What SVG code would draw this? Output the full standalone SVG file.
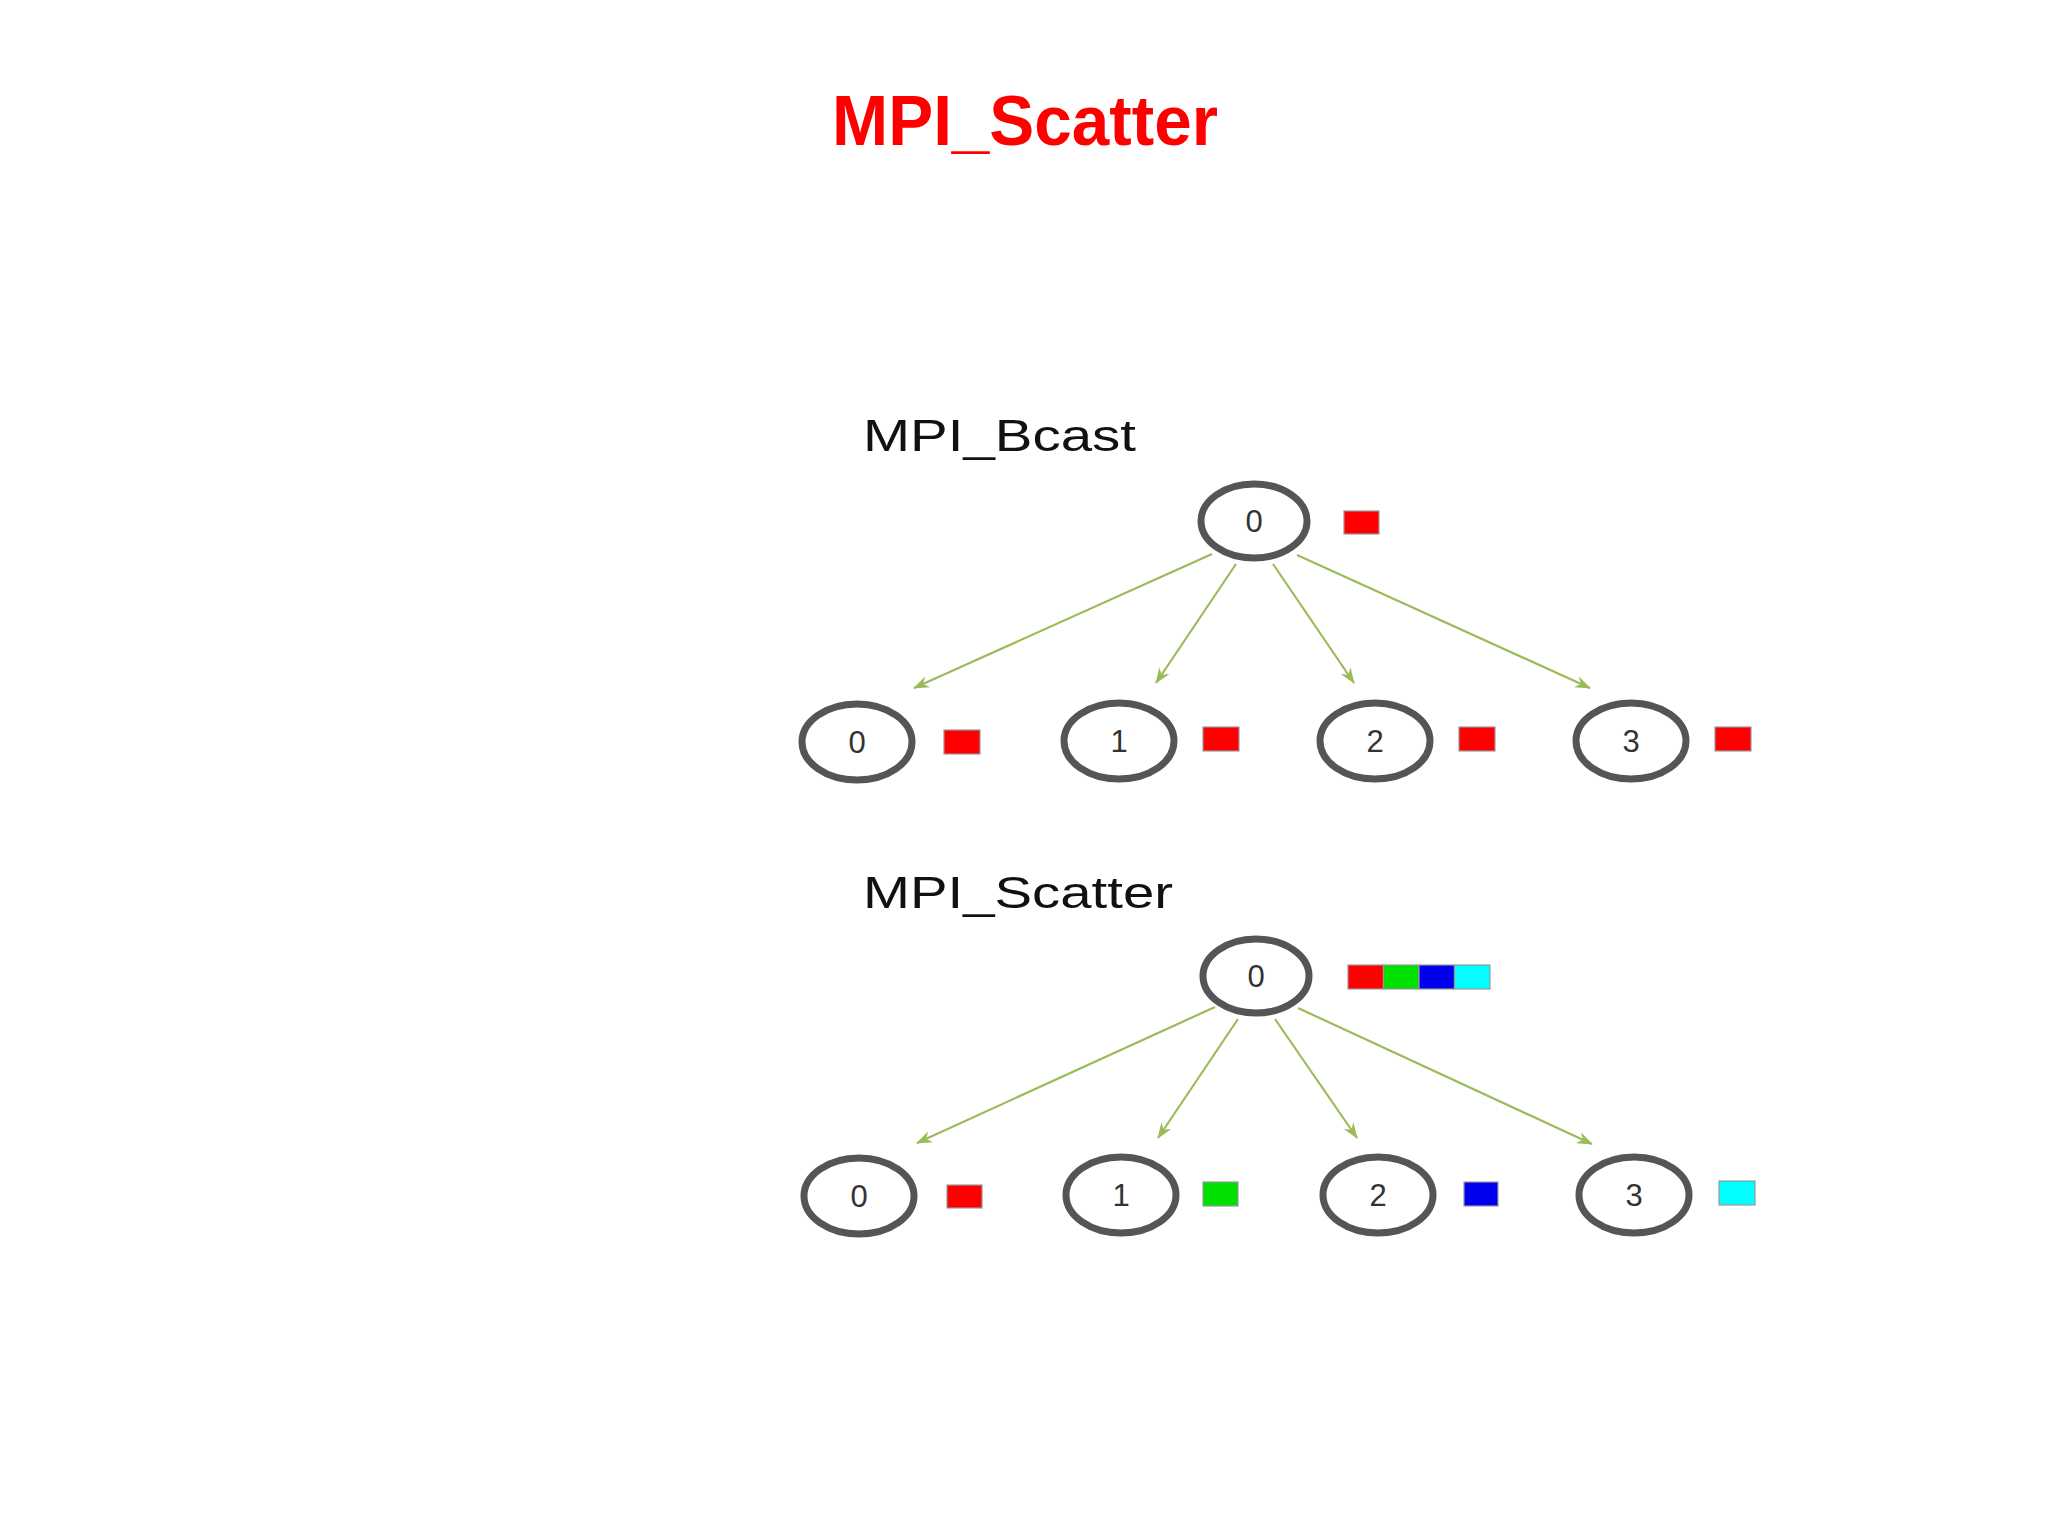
<svg xmlns="http://www.w3.org/2000/svg" width="2048" height="1536" viewBox="0 0 2048 1536">
<style>
.title{font-family:"Liberation Sans",Arial,sans-serif;font-weight:bold;font-size:70px;fill:#ff0000}
.sub{font-family:"Liberation Sans",Arial,sans-serif;font-size:44px;fill:#111}
.node ellipse{fill:#fff;stroke:#555;stroke-width:7}
.node text{font-family:"Liberation Sans Narrow","Liberation Sans",Arial,sans-serif;font-size:31px;fill:#333;text-anchor:middle}
.conn line{stroke:#9bbb59;stroke-width:2.2;marker-end:url(#ah)}
.blk{stroke:#999;stroke-width:1.2}
</style>
<defs>
<marker id="ah" viewBox="0 0 16 12" refX="15" refY="6" markerWidth="16" markerHeight="12" markerUnits="userSpaceOnUse" orient="auto">
<path d="M0,0 L16,6 L0,12 L5,6 Z" fill="#9bbb59"/>
</marker>
</defs>
<rect width="2048" height="1536" fill="#fff"/>
<text class="title" x="1025" y="145" text-anchor="middle" textLength="386" lengthAdjust="spacingAndGlyphs">MPI_Scatter</text>

<text class="sub" x="863" y="451" textLength="273" lengthAdjust="spacingAndGlyphs">MPI_Bcast</text>
<text class="sub" x="863" y="908" textLength="310" lengthAdjust="spacingAndGlyphs">MPI_Scatter</text>

<g id="connectors" class="conn">
<line x1="1212" y1="554" x2="914" y2="688"/>
<line x1="1236" y1="564" x2="1156" y2="683"/>
<line x1="1273" y1="564" x2="1354" y2="683"/>
<line x1="1297" y1="555" x2="1590" y2="688"/>
<line x1="1215" y1="1007" x2="917" y2="1143"/>
<line x1="1238" y1="1019" x2="1158" y2="1138"/>
<line x1="1275" y1="1019" x2="1357" y2="1138"/>
<line x1="1298" y1="1008" x2="1592" y2="1144"/>
</g>

<g id="bcast-root" class="node"><ellipse cx="1254" cy="521" rx="53" ry="37"/><text x="1254" y="532">0</text></g>
<rect id="bcast-root-data" class="blk" x="1344" y="511" width="35" height="23" fill="#ff0000"/>

<g id="bcast-0" class="node"><ellipse cx="857" cy="742" rx="55" ry="38"/><text x="857" y="753">0</text></g>
<g id="bcast-1" class="node"><ellipse cx="1119" cy="741" rx="55" ry="38"/><text x="1119" y="752">1</text></g>
<g id="bcast-2" class="node"><ellipse cx="1375" cy="741" rx="55" ry="38"/><text x="1375" y="752">2</text></g>
<g id="bcast-3" class="node"><ellipse cx="1631" cy="741" rx="55" ry="38"/><text x="1631" y="752">3</text></g>
<g id="bcast-data">
<rect class="blk" x="944" y="730" width="36" height="24" fill="#ff0000"/>
<rect class="blk" x="1203" y="727" width="36" height="24" fill="#ff0000"/>
<rect class="blk" x="1459" y="727" width="36" height="24" fill="#ff0000"/>
<rect class="blk" x="1715" y="727" width="36" height="24" fill="#ff0000"/>
</g>

<g id="scatter-root" class="node"><ellipse cx="1256" cy="976" rx="53" ry="37"/><text x="1256" y="987">0</text></g>
<g id="scatter-root-data">
<rect class="blk" x="1348" y="965" width="35.5" height="24" fill="#ff0000"/>
<rect class="blk" x="1383.5" y="965" width="35.5" height="24" fill="#00e000"/>
<rect class="blk" x="1419" y="965" width="35.5" height="24" fill="#0000ee"/>
<rect class="blk" x="1454.5" y="965" width="35.5" height="24" fill="#00ffff"/>
</g>

<g id="scatter-0" class="node"><ellipse cx="859" cy="1196" rx="55" ry="38"/><text x="859" y="1207">0</text></g>
<g id="scatter-1" class="node"><ellipse cx="1121" cy="1195" rx="55" ry="38"/><text x="1121" y="1206">1</text></g>
<g id="scatter-2" class="node"><ellipse cx="1378" cy="1195" rx="55" ry="38"/><text x="1378" y="1206">2</text></g>
<g id="scatter-3" class="node"><ellipse cx="1634" cy="1195" rx="55" ry="38"/><text x="1634" y="1206">3</text></g>
<g id="scatter-data">
<rect class="blk" x="947" y="1185" width="35" height="23" fill="#ff0000"/>
<rect class="blk" x="1203" y="1182" width="35" height="24" fill="#00e000"/>
<rect class="blk" x="1464" y="1182" width="34" height="24" fill="#0000ee"/>
<rect class="blk" x="1719" y="1181" width="36" height="24" fill="#00ffff"/>
</g>
</svg>
